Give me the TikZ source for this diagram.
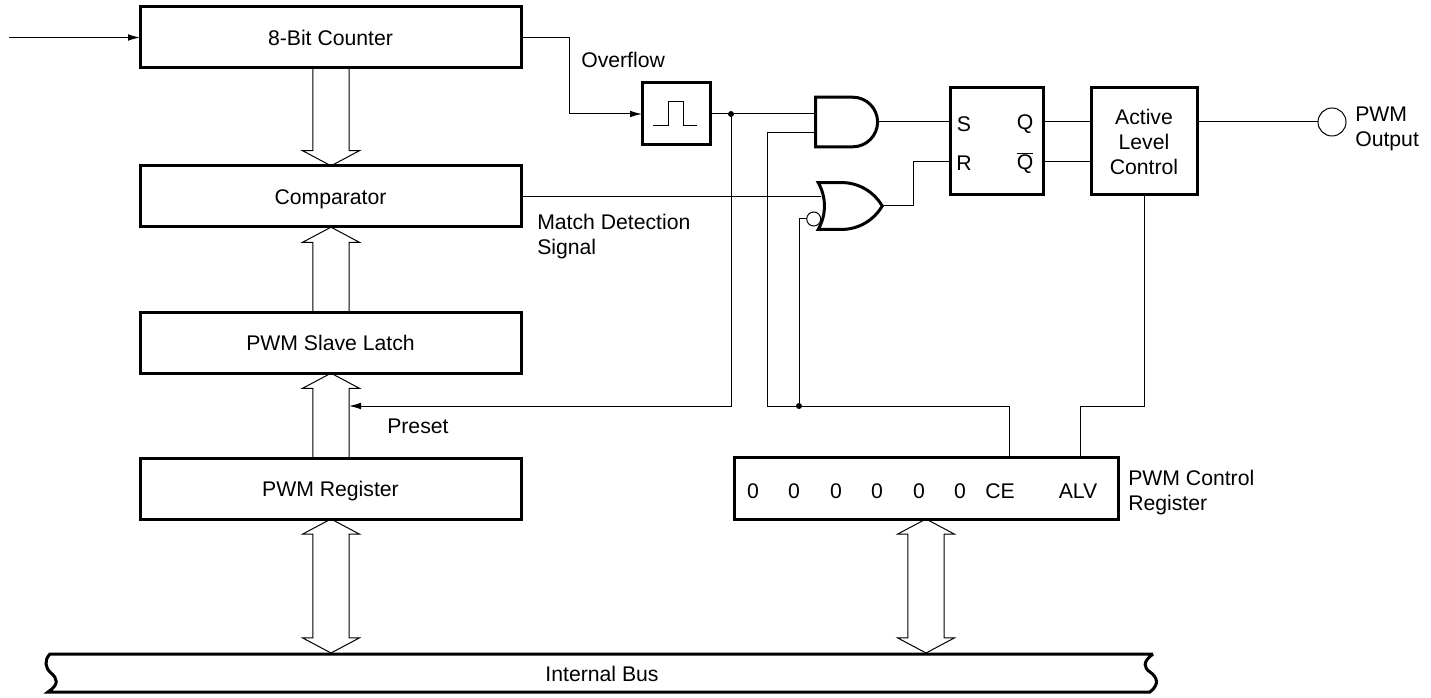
\documentclass[tikz,border=0pt]{standalone}
\usepackage{fontspec}
\setmainfont{Liberation Sans}
\usetikzlibrary{arrows.meta,shapes.arrows,shapes.gates.logic.US}

\begin{document}
\begin{tikzpicture}[
      x = 0.75pt, y = -0.75pt,
      font = \fontsize{15.9}{18.75}\selectfont,
      Wire/.style = {draw, line width = 0.75pt},
      Line/.style = {Wire, -{Latex[length = 9pt, width = 5pt]}},
      Block/.style = {draw, rectangle, line width = 2.25pt, outer sep = 0pt, fill = white, minimum width = 285.75pt, minimum height = 45.75pt, text height = 14.8pt, text depth = 3.4pt},
      Logic/.style = {draw, rectangle, line width = 2.25pt, outer sep = 0pt, fill = white},
      Gate/.style = {draw, line width = 2.25pt, outer sep = 0pt, inner sep = 0pt, fill = white, logic gate input sep = 11.5pt, logic gate inputs = nn},
      Dot/.style = {circle, fill, inner sep = 0pt, minimum size = 4.5pt},
      Label/.style = {align = left, anchor = west, inner sep = 0pt},
      BusOne/.style = {draw, single arrow, line width = 0.75pt, outer sep = 0pt, inner sep = 13.2pt, fill = white, single arrow head extend = 7.8pt, single arrow tip angle = 124, minimum width = 42pt},
      BusTwo/.style = {draw, double arrow, line width = 0.75pt, outer sep = 0pt, inner sep = 13.2pt, fill = white, double arrow head extend = 7.8pt, double arrow tip angle = 124, minimum width = 42pt, minimum height = 100.5pt, shape border rotate = 90}
    ]
    \useasboundingbox (0,0) rectangle (1431,698);

    % wide arrows first, the boxes cover their tails
    \node at (331,112) [BusOne, minimum height = 73.5pt, shape border rotate = 270](CountBus){};
    \node at (331,275) [BusOne, minimum height = 64.5pt, shape border rotate = 90](LatchBus){};
    \node at (331,420.5) [BusOne, minimum height = 63.75pt, shape border rotate = 90](RegBus){};
    \node at (331,586) [BusTwo](RegDataBus){};
    \node at (926,586) [BusTwo](CtrlDataBus){};

    \node at (330.5,37.5) [Block](Counter){8-Bit Counter};
    \node at (330.5,196.5) [Block](Comparator){Comparator};
    \node at (330.5,343) [Block](Latch){PWM Slave Latch};
    \node at (330.5,488.5) [Block](Register){PWM Register};

    \node at (676,114) [Logic, minimum width = 51pt, minimum height = 46.5pt](Pulse){};
    \node at (996.5,141.5) [Logic, minimum width = 69.75pt, minimum height = 80.25pt](FlipFlop){};
    \node at (1144,141.5) [Logic, minimum width = 79.5pt, minimum height = 80.25pt, align = center](Active){Active\\Level\\Control};
    \node at (926,488.5) [Logic, minimum width = 288pt, minimum height = 46.5pt](Control){};
    \node at (1332,122) [circle, draw, line width = 0.75pt, inner sep = 0pt, outer sep = 0pt, minimum size = 21pt](Output){};

    \draw[line width = 0.75pt] (653,126) -- (668,126) -- (668,102) -- (683,102) -- (683,126) -- (697,126);

    % the bus with its broken ends
    \draw[line width = 2.25pt] (1153,654) -- (50,654) .. controls (44,660) and (45,668) .. (51,673) .. controls (57,678) and (60,684) .. (48,692) -- (1150,692) .. controls (1160,684) and (1157,677) .. (1150,672) .. controls (1144,668) and (1142,662) .. (1153,654);
    \node at (602,674) (BusName){Internal Bus};

    \coordinate (Start) at (9,37.5);
    \coordinate (OverflowBend) at (569,114);
    \coordinate (PresetEnd) at (349,406);
    \coordinate (EnableBend) at (767,406);
    \coordinate (AlvBend) at (1144,406);
    \coordinate (CeTap) at (1009,458);
    \coordinate (AlvTap) at (1080,458);
    \coordinate (AndIn) at (816,133);
    \coordinate (OrIn) at (821,196.5);
    \coordinate (OrBend) at (913,206);
    \coordinate (RIn) at (950,162);
    \coordinate (SIn) at (950,122);
    \coordinate (QOut) at (1043,122);
    \coordinate (QbarOut) at (1043,162);
    \node at (731,114) [Dot](PulseDot){};
    \node at (799,406) [Dot](EnableDot){};

    \node at (844.5,122) [Gate, and gate US, minimum width = 46.5pt](AndGate){};
    \node at (845.5,206) [Gate, or gate US, minimum width = 48pt](OrGate){};
    \node at (813.7,219) [circle, draw, line width = 0.75pt, fill = white, inner sep = 0pt, outer sep = 0pt, minimum size = 10.5pt](OrBubble){};

    \path [Line] (Start) -- (Counter.west);
    \path [Line] (Counter.east) -| (OverflowBend) -- (Pulse.west);
    \path [Wire] (Pulse.east) -- (PulseDot) -- (PulseDot -| AndGate.west);
    \path [Line] (PulseDot) |- (PresetEnd);
    \path [Wire] (Comparator.east) -- (OrIn);
    \path [Wire] (CeTap) |- (EnableDot) -- (EnableBend) |- (AndIn);
    \path [Wire] (EnableDot) |- (OrBubble);
    \path [Wire] (AlvTap) |- (AlvBend) -- (Active.south);
    \path [Wire] (AndGate.output) -- (SIn);
    \path [Wire] (OrGate.output) -- (OrBend) |- (RIn);
    \path [Wire] (QOut) -- (QOut -| Active.west);
    \path [Wire] (QbarOut) -- (QbarOut -| Active.west);
    \path [Wire] (Active.east |- Output) -- (Output);

    \node at (964,124) (SName){S};
    \node at (964,163) (RName){R};
    \node at (1025,124) (QName){Q};
    \node at (1025,163) (QbarName){$\overline{\mbox{Q}}$};

    \node at (753,491.5) (BitA){0};
    \node at (794,491.5) (BitB){0};
    \node at (836,491.5) (BitC){0};
    \node at (877,491.5) (BitD){0};
    \node at (919,491.5) (BitE){0};
    \node at (960,491.5) (BitF){0};
    \node at (1000,491.5) (BitCe){CE};
    \node at (1078,491.5) (BitAlv){ALV};

    \node at (581,60) [Label](Overflow){Overflow};
    \node at (537,237) [Label](Match){Match Detection\\Signal};
    \node at (387,426) [Label](Preset){Preset};
    \node at (1355,129) [Label](OutputName){PWM\\Output};
    \node at (1128,493) [Label](ControlName){PWM Control\\Register};
  \end{tikzpicture}
\end{document}
